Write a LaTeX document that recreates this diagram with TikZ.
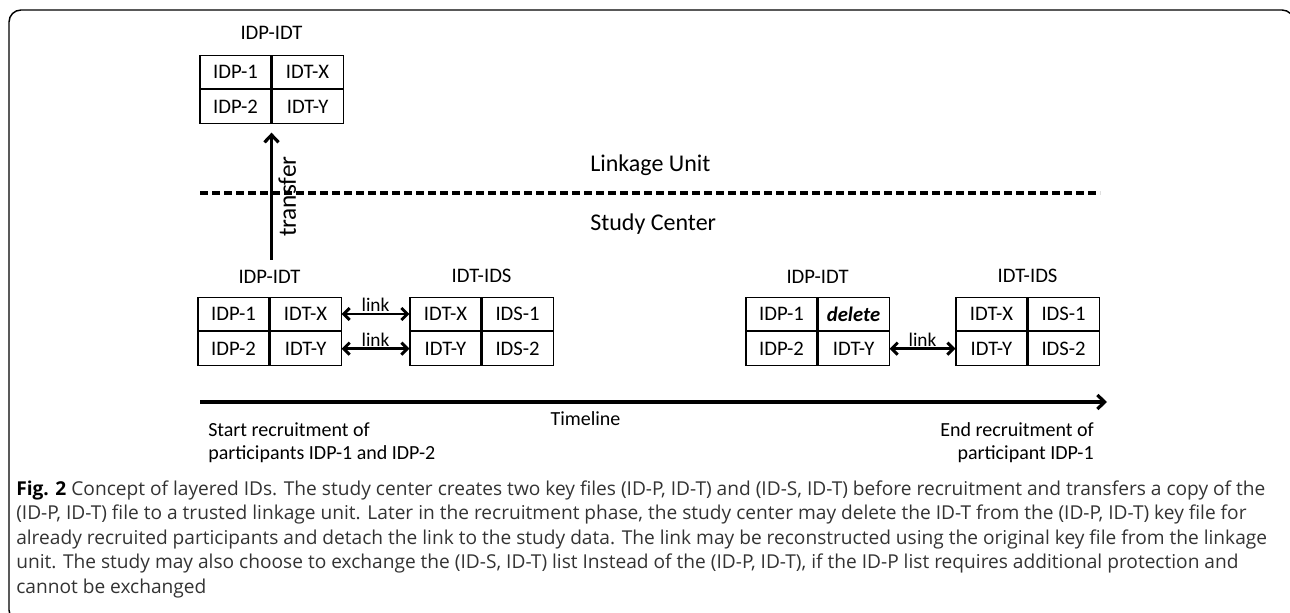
\documentclass[tikz,border=0pt]{standalone}
\usepackage{fontspec}
\setmainfont{Carlito}
\newfontfamily\captionfont{Open Sans}
\usetikzlibrary{positioning,arrows.meta}

\begin{document}
\begin{tikzpicture}[x=0.75pt,y=-0.75pt]

 \tikzset{
    cell/.style={draw, line width=0.8pt, minimum width=53.25pt, minimum height=25.2pt,
      inner sep=0pt, font=\fontsize{15.5}{18}\selectfont},
    keytitle/.style={inner sep=0pt, font=\fontsize{15.5}{18}\selectfont},
    zonelabel/.style={inner sep=0pt, font=\fontsize{18}{21}\selectfont},
    note/.style={inner sep=0pt, font=\fontsize{15}{17.25}\selectfont},
    linktext/.style={inner sep=0.5pt, font=\fontsize{14.5}{16}\selectfont},
    captionline/.style={inner sep=0pt, anchor=base west, text=black!80,
      font=\captionfont\fontsize{14.35}{18}\selectfont},
    linkarrow/.style={line width=2.2pt,
      {Straight Barb[length=4.5pt,width=9pt]}-{Straight Barb[length=4.5pt,width=9pt]}},
    bigarrow/.style={line width=2.4pt, -{Straight Barb[length=5.5pt,width=10.5pt]}},
    divider/.style={line width=2.4pt, dash pattern=on 6pt off 3pt},
  }

  \useasboundingbox (0,0) rectangle (1290,613);
  \clip (0,0) rectangle (1290,613);
  \draw[line width=1.1pt, rounded corners=9pt] (9,10) rectangle (1294,622);

  % linkage unit copy
  \node[cell] (u11) at (235.5,72) {IDP-1};
  \node[cell, right=0pt of u11] (u12) {IDT-X};
  \node[cell, below=0pt of u11] (u21) {IDP-2};
  \node[cell, right=0pt of u21] (u22) {IDT-Y};
  \node[keytitle, above=11.5pt of u11.north east] (u) {IDP-IDT};

  \coordinate (dl) at (200,193);
  \coordinate (dr) at (1100,193);
  \draw[divider] (dl) -- (dr);
  \node[zonelabel, anchor=base west] (lu) at (590,172) {Linkage Unit};
  \node[zonelabel, anchor=base west] (sc) at (590,231) {Study Center};

  % study center, start
  \node[cell] (a11) at (233.5,314) {IDP-1};
  \node[cell, right=0pt of a11] (a12) {IDT-X};
  \node[cell, below=0pt of a11] (a21) {IDP-2};
  \node[cell, right=0pt of a21] (a22) {IDT-Y};
  \node[keytitle, above=10pt of a11.north east] (a) {IDP-IDT};

  \node[cell] (b11) at (445.5,314) {IDT-X};
  \node[cell, right=0pt of b11] (b12) {IDS-1};
  \node[cell, below=0pt of b11] (b21) {IDT-Y};
  \node[cell, right=0pt of b21] (b22) {IDS-2};
  \node[keytitle, above=10pt of b11.north east] (b) {IDT-IDS};

  \draw[linkarrow] (a12.east) -- node[linktext, above] {link} (b11.west);
  \draw[linkarrow] (a22.east) -- node[linktext, above] {link} (b21.west);

  \draw[bigarrow, shorten <=7.5pt, shorten >=6.5pt] (a.north -| u21.south east) -- node[midway, sloped, below=4pt, inner sep=0pt,
    font=\fontsize{19}{21}\selectfont] {transfer} (u21.south east);

  % study center, end
  \node[cell] (c11) at (781.5,314) {IDP-1};
  \node[cell, right=0pt of c11] (c12) {\textbf{\textit{delete}}};
  \node[cell, below=0pt of c11] (c21) {IDP-2};
  \node[cell, right=0pt of c21] (c22) {IDT-Y};
  \node[keytitle, above=10pt of c11.north east] (c) {IDP-IDT};

  \node[cell] (d11) at (991.5,314) {IDT-X};
  \node[cell, right=0pt of d11] (d12) {IDS-1};
  \node[cell, below=0pt of d11] (d21) {IDT-Y};
  \node[cell, right=0pt of d21] (d22) {IDS-2};
  \node[keytitle, above=10pt of d11.north east] (d) {IDT-IDS};

  \draw[linkarrow] (c22.east) -- node[linktext, above] {link} (d21.west);

  % timeline
  \coordinate (t0) at (200,402);
  \coordinate (t1) at (1107,402);
  \draw[bigarrow] (t0) -- node[pos=0.425, below=6pt, note] {Timeline} (t1);
  \node[note, align=left, anchor=north west] (start) at (208,422)
    {Start recruitment of\\participants IDP-1 and IDP-2};
  \node[note, align=right, anchor=north east] (end) at (1094,422)
    {End recruitment of\\participant IDP-1};

  % caption
  \node[captionline] (cap1) at (16,495) {\textcolor{black}{\bfseries Fig. 2} Concept of layered IDs. The study center creates two key files (ID-P, ID-T) and (ID-S, ID-T) before recruitment and transfers a copy of the};
  \node[captionline] (cap2) at (16,519.5) {(ID-P, ID-T) file to a trusted linkage unit. Later in the recruitment phase, the study center may delete the ID-T from the (ID-P, ID-T) key file for};
  \node[captionline] (cap3) at (16,544) {already recruited participants and detach the link to the study data. The link may be reconstructed using the original key file from the linkage};
  \node[captionline] (cap4) at (16,568.5) {unit. The study may also choose to exchange the (ID-S, ID-T) list Instead of the (ID-P, ID-T), if the ID-P list requires additional protection and};
  \node[captionline] (cap5) at (16,593) {cannot be exchanged};
\end{tikzpicture}
\end{document}
